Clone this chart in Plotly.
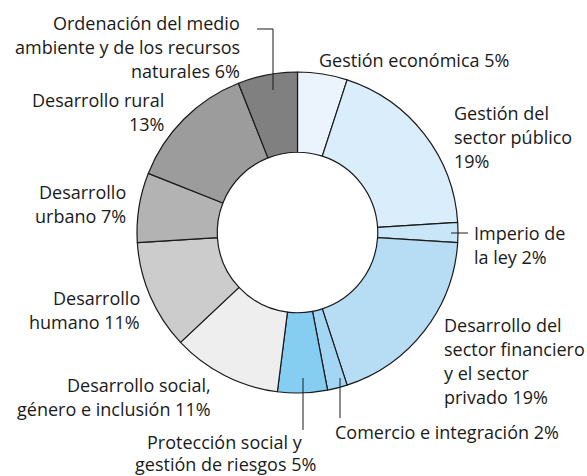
import plotly.graph_objects as go

W, H = 587, 476

labels = [
    "Gestión económica 5%",
    "Gestión del\nsector público\n19%",
    "Imperio de\nla ley 2%",
    "Desarrollo del\nsector financiero\ny el sector\nprivado 19%",
    "Comercio e integración 2%",
    "Protección social y\ngestión de riesgos 5%",
    "Desarrollo social,\ngénero e inclusión 11%",
    "Desarrollo\nhumano 11%",
    "Desarrollo\nurbano 7%",
    "Desarrollo rural\n13%",
    "Ordenación del medio\nambiente y de los recursos\nnaturales 6%",
]
values = [5, 19, 2, 19, 2, 5, 11, 11, 7, 13, 6]
colors = ["#ebf4fc", "#daedfb", "#c9e6f8", "#b7ddf5", "#a3d6f4", "#86cdf2",
          "#eeeeee", "#cccccc", "#b3b3b3", "#9c9c9c", "#808080"]

# label placement (pixels): anchor x, first-line y, xanchor, line gap
label_pos = [
    (317, 60, "left", 24),
    (452, 113, "left", 24),
    (472, 233, "left", 24),
    (442, 325, "left", 24),
    (333, 432, "left", 24),
    (225, 442, "center", 22),
    (213, 385, "right", 24),
    (142, 298, "right", 24),
    (128, 192, "right", 24),
    (166, 100, "right", 24),
    (242, 23, "right", 24),
]

leaders = [
    [(257, 29), (273, 29), (273, 90)],
    [(451, 233), (468, 233)],
    [(340, 378), (340, 418)],
    [(303, 378), (303, 430)],
]

cx, cy, r = 297.5, 232.5, 160.5

def px(x):
    return x / W

def py(y):
    return 1 - y / H

fig = go.Figure(go.Pie(
    labels=[l.replace("\n", " ") for l in labels],
    values=values,
    sort=False,
    direction="clockwise",
    rotation=0,
    hole=0.5,
    textinfo="none",
    hoverinfo="label",
    marker=dict(colors=colors, line=dict(color="#1a1a1a", width=1.2)),
    domain=dict(x=[px(cx - r), px(cx + r)], y=[py(cy + r), py(cy - r)]),
    showlegend=False,
))

annotations = []
for lab, (x, y, anc, gap) in zip(labels, label_pos):
    for i, line in enumerate(lab.split("\n")):
        annotations.append(dict(
            x=px(x), y=py(y + i * gap), xref="paper", yref="paper",
            text=line, showarrow=False, xanchor=anc, yanchor="middle",
            font=dict(family="Open Sans", size=18, color="#1a1a1a"),
        ))

shapes = []
for pts in leaders:
    for (x0, y0), (x1, y1) in zip(pts[:-1], pts[1:]):
        shapes.append(dict(type="line", xref="paper", yref="paper",
                           x0=px(x0), y0=py(y0), x1=px(x1), y1=py(y1),
                           line=dict(color="#1a1a1a", width=1)))

fig.update_layout(
    width=W, height=H,
    margin=dict(l=0, r=0, t=0, b=0),
    paper_bgcolor="white", plot_bgcolor="white",
    annotations=annotations, shapes=shapes,
)

fig.write_html("out.html",
               config={"displayModeBar": False},
               post_script="document.body.style.margin='0px';document.body.style.padding='0px';")
